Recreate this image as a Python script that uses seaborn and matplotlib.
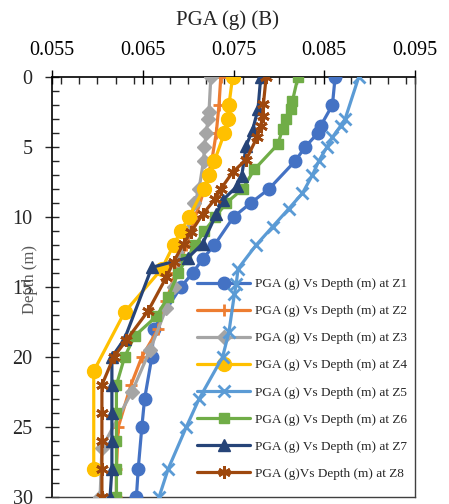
import matplotlib
matplotlib.use("Agg")
import matplotlib.pyplot as plt
from matplotlib.ticker import MultipleLocator
import seaborn as sns
import pandas as pd

# ---------------- data ----------------
z1_depth = [0, 2, 3.5, 4, 5, 6, 8, 9, 10, 12, 13, 14, 15, 18, 20, 23, 25, 28, 30]
z1_pga = [0.0862, 0.0859, 0.0846, 0.0843, 0.0829, 0.0818, 0.0789, 0.0769, 0.0750,
          0.0729, 0.0716, 0.0705, 0.0692, 0.0662, 0.0660, 0.0652, 0.0649, 0.0645, 0.0643]

z2_depth = [0, 2, 4, 6, 8, 10, 12, 14, 16, 18, 20, 22, 25, 28, 30]
z2_pga = [0.0736, 0.0734, 0.0731, 0.0726, 0.0718, 0.0708, 0.0698, 0.0686, 0.0676,
          0.0667, 0.0649, 0.0637, 0.0623, 0.0621, 0.0621]

z3_depth = [0, 2.5, 3, 4, 5, 6, 8, 9, 11, 13, 15, 16.5, 19.5, 22.5, 26.5, 30]
z3_pga = [0.0725, 0.0723, 0.0722, 0.0720, 0.0718, 0.0717, 0.0712, 0.0707, 0.0700,
          0.0692, 0.0684, 0.0676, 0.0658, 0.0638, 0.0605, 0.0603]

z4_depth = [0, 2, 3, 4, 6, 7, 8, 10, 11, 12, 13.7, 16.8, 21, 28]
z4_pga = [0.0749, 0.0745, 0.0744, 0.0740, 0.0729, 0.0723, 0.0717, 0.0701, 0.0692,
          0.0684, 0.0671, 0.0630, 0.0596, 0.0596]

z5_depth = [0, 3, 3.5, 4.3, 5, 6, 7, 8.3, 9.4, 10.7, 12, 13.7, 14.8, 15.5, 18.2, 20,
            23, 25, 28, 30]
z5_pga = [0.0888, 0.0873, 0.0868, 0.0859, 0.0853, 0.0844, 0.0837, 0.0826, 0.0811,
          0.0793, 0.0775, 0.0755, 0.0753, 0.0751, 0.0745, 0.0738, 0.0712, 0.0698,
          0.0678, 0.0668]

z6_depth = [0, 1.7, 2.3, 3, 3.7, 4.8, 6.6, 8, 9, 10, 11, 12, 13, 14, 15.7, 17.1, 18.5,
            20, 22, 24, 26, 28, 30]
z6_pga = [0.0821, 0.0815, 0.0813, 0.0808, 0.0804, 0.0799, 0.0773, 0.0760, 0.0742,
          0.0730, 0.0718, 0.0708, 0.0698, 0.0689, 0.0678, 0.0665, 0.0641, 0.0630,
          0.0621, 0.0621, 0.0621, 0.0621, 0.0621]

z7_depth = [0, 2.3, 3.8, 4.9, 7.1, 7.8, 8.8, 9.8, 11.9, 12.9, 13.6, 18.7, 20, 22, 24,
            26, 28, 30]
z7_pga = [0.0780, 0.0777, 0.0771, 0.0764, 0.0759, 0.0754, 0.0738, 0.0731, 0.0716,
          0.0700, 0.0660, 0.0630, 0.0616, 0.0616, 0.0616, 0.0616, 0.0616, 0.0614]

z8_depth = [0, 1.9, 2.8, 3.5, 4.3, 5.9, 6.8, 8, 8.7, 9.8, 11.1, 11.9, 13.2, 14.3, 16.7,
            18.8, 20, 22, 24, 26, 28, 30]
z8_pga = [0.0786, 0.0783, 0.0782, 0.0780, 0.0776, 0.0764, 0.0749, 0.0736, 0.0730,
          0.0716, 0.0703, 0.0695, 0.0684, 0.0676, 0.0656, 0.0632, 0.0618, 0.0605,
          0.0605, 0.0605, 0.0605, 0.0605]

labels = ["PGA (g) Vs Depth (m) at Z1", "PGA (g) Vs Depth (m) at Z2",
          "PGA (g) Vs Depth (m) at Z3", "PGA (g) Vs Depth (m) at Z4",
          "PGA (g) Vs Depth (m) at Z5", "PGA (g) Vs Depth (m) at Z6",
          "PGA (g) Vs Depth (m) at Z7", "PGA (g)Vs Depth (m) at Z8"]
x_ticks = [0.055, 0.065, 0.075, 0.085, 0.095]
x_tick_labels = ["0.055", "0.065", "0.075", "0.085", "0.095"]
y_ticks = [0, 5, 10, 15, 20, 25, 30]

# ---------------- style ----------------
sns.set_style("white")
plt.rcParams["font.family"] = ["Liberation Serif", "DejaVu Serif"]

colors = ["#4472C4", "#ED7D31", "#A5A5A5", "#FFC000",
          "#5B9BD5", "#70AD47", "#264478", "#9E480E"]
markers = ["o", "+", "D", "o", "x", "s", "^", (6, 2, 0)]
msizes = [9, 9, 7, 10, 9, 7, 8, 9]

series = [(z1_pga, z1_depth), (z2_pga, z2_depth), (z3_pga, z3_depth),
          (z4_pga, z4_depth), (z5_pga, z5_depth), (z6_pga, z6_depth),
          (z7_pga, z7_depth), (z8_pga, z8_depth)]

frames = []
for lab, (xs, ys) in zip(labels, series):
    frames.append(pd.DataFrame({"PGA": xs, "Depth": ys, "Series": lab}))
df = pd.concat(frames, ignore_index=True)

fig = plt.figure(figsize=(4.49, 5.04), dpi=100)
ax = fig.add_axes([52 / 449, 1 - 497 / 504, (415 - 52) / 449, 420 / 504])

for i, lab in enumerate(labels):
    sub = df[df["Series"] == lab]
    sns.lineplot(data=sub, x="PGA", y="Depth", ax=ax, sort=False, estimator=None,
                 color=colors[i], marker=markers[i], markersize=msizes[i],
                 markeredgecolor=colors[i], markeredgewidth=2 if i in (1, 4, 7) else 1,
                 linewidth=2.3, label=lab, zorder=3 + i)

ax.set_xlim(0.055, 0.095)
ax.set_ylim(30, 0)
ax.xaxis.tick_top()
ax.xaxis.set_label_position("top")
ax.set_xticks(x_ticks)
ax.set_xticklabels(x_tick_labels)
ax.set_yticks(y_ticks)
ax.xaxis.set_minor_locator(MultipleLocator(0.002))
ax.yaxis.set_minor_locator(MultipleLocator(1))
ax.tick_params(axis="x", which="major", direction="inout", length=10, width=1,
               labelsize=14.5, pad=7, top=True, bottom=False, colors="black")
ax.tick_params(axis="x", which="minor", direction="in", length=5, width=1,
               top=True, bottom=False)
ax.tick_params(axis="y", which="major", direction="inout", length=10, width=1,
               labelsize=14.5, pad=9, left=True, right=False)
ax.tick_params(axis="y", which="minor", direction="in", length=5, width=1,
               left=True, right=False)
ax.set_xlabel("")
ax.set_ylabel("")
for side in ["top", "left"]:
    ax.spines[side].set_color("black")
    ax.spines[side].set_linewidth(1.2)
for side in ["right", "bottom"]:
    ax.spines[side].set_color("#404040")
    ax.spines[side].set_linewidth(1.0)
ax.grid(False)

fig.text(228 / 449, 1 - 20 / 504, "PGA (g) (B)", ha="center", va="center", fontsize=15)
fig.text(30 / 449, 1 - 279 / 504, "Depth (m)", ha="center", va="center",
         rotation=90, fontsize=12, color="#595959")

leg = ax.legend(loc="lower right", bbox_to_anchor=(0.994, 0.029), frameon=False,
                fontsize=9.5, handlelength=4, handletextpad=0.4, labelspacing=1.12,
                borderaxespad=0)
for line in leg.get_lines():
    line.set_linewidth(2.3)

fig.savefig("out.png", dpi=100)
